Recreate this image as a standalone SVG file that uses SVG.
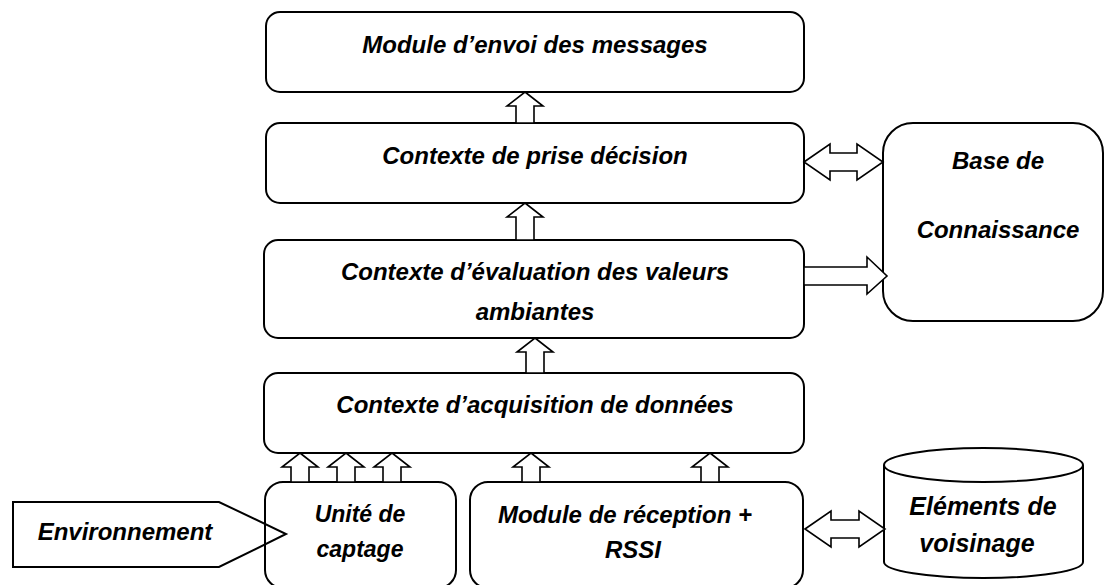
<svg xmlns="http://www.w3.org/2000/svg" width="1106" height="585" viewBox="0 0 1106 585">
<style>
.box{fill:#fff;stroke:#000;stroke-width:2}
.arr{fill:#fff;stroke:#000;stroke-width:1.6;stroke-linejoin:miter}
.t{font-family:"Liberation Sans",Arial,sans-serif;font-weight:bold;font-style:italic;font-size:24px;fill:#000;text-anchor:middle}
</style>
<defs>
<clipPath id="clipV"><rect x="880" y="440" width="210" height="117"/></clipPath>
</defs>
<rect width="1106" height="585" fill="#fff"/>

<g id="envoi">
<rect class="box" x="266" y="12" width="538" height="80" rx="14"/>
<text class="t" x="535" y="53">Module d’envoi des messages</text>
</g>
<g id="decision">
<rect class="box" x="266" y="123" width="538" height="80" rx="14"/>
<text class="t" x="535" y="164">Contexte de prise décision</text>
</g>
<g id="evaluation">
<rect class="box" x="264" y="240" width="540" height="98" rx="14"/>
<text class="t" x="535" y="280">Contexte d’évaluation des valeurs</text>
<text class="t" x="535" y="320">ambiantes</text>
</g>
<g id="acquisition">
<rect class="box" x="264" y="373" width="540" height="80" rx="14"/>
<text class="t" x="535" y="413">Contexte d’acquisition de données</text>
</g>
<g id="base">
<rect class="box" x="883" y="123" width="220" height="198" rx="30"/>
<text class="t" x="998" y="169">Base de</text>
<text class="t" x="998" y="238">Connaissance</text>
</g>
<g id="captage">
<rect class="box" x="265" y="482" width="191" height="106" rx="18"/>
<text class="t" x="360" y="522" style="font-size:23px">Unité de</text>
<text class="t" x="360" y="557" style="font-size:23px">captage</text>
</g>
<g id="environnement">
<polygon class="box" style="fill:none" points="13,502 219,502 286,534 219,567 13,567"/>
<text class="t" x="125" y="540">Environnement</text>
</g>
<g id="reception">
<rect class="box" x="470" y="482" width="333" height="106" rx="18"/>
<text class="t" x="625" y="523">Module de réception +</text>
<text class="t" x="633" y="558">RSSI</text>
</g>
<g id="voisinage">
<path class="box" d="M884,465 L884,562 A99.5,16 0 0 0 1083,562 L1083,465 A99.5,17 0 0 0 884,465 A99.5,17 0 0 0 1083,465"/>
<text class="t" x="983" y="515" style="font-size:25px">Eléments de</text>
<text class="t" x="977" y="552" style="font-size:25px" clip-path="url(#clipV)">voisinage</text>
</g>

<g id="connectors">
<polygon class="arr" points="525,92 543,106 534,106 534,123 516,123 516,106 507,106"/>
<polygon class="arr" points="525,203 543,217 534,217 534,240 516,240 516,217 507,217"/>
<polygon class="arr" points="535,338 553,352 544,352 544,373 526,373 526,352 517,352"/>
<polygon class="arr" points="300,453 318,467 309,467 309,482 291,482 291,467 282,467"/>
<polygon class="arr" points="346,453 364,467 355,467 355,482 337,482 337,467 328,467"/>
<polygon class="arr" points="392,453 410,467 401,467 401,482 383,482 383,467 374,467"/>
<polygon class="arr" points="531,453 549,467 540,467 540,482 522,482 522,467 513,467"/>
<polygon class="arr" points="710,453 728,467 719,467 719,482 701,482 701,467 692,467"/>
<polygon class="arr" points="804,162 830,144 830,153 857,153 857,144 883,162 857,180 857,171 830,171 830,180"/>
<polygon class="arr" points="804,267 867,267 867,257 887,276 867,294 867,285 804,285"/>
<polygon class="arr" points="805,529 831,511 831,520 859,520 859,511 885,529 859,547 859,538 831,538 831,547"/>
</g>
</svg>
